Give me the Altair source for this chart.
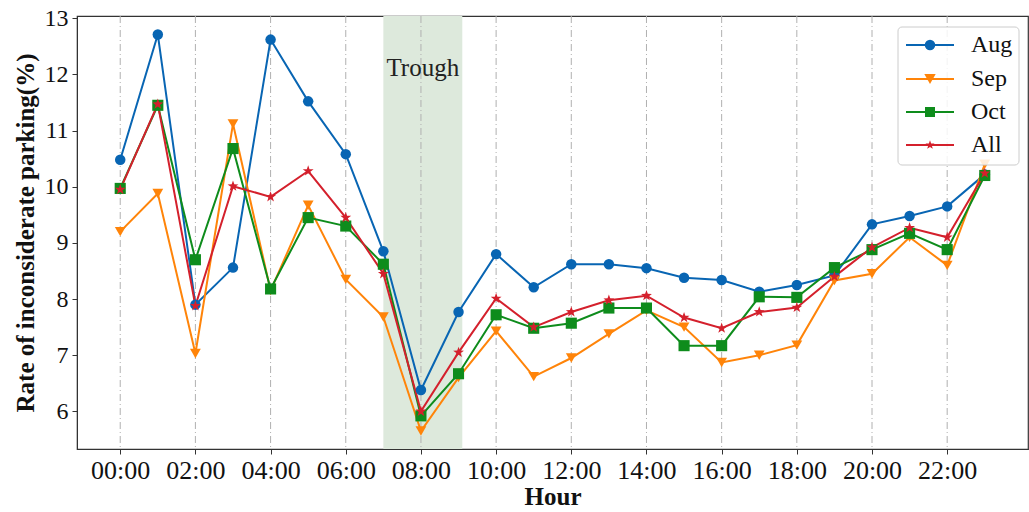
import altair as alt
import pandas as pd

hours = list(range(24))
aug = [10.48, 12.71, 7.90, 8.56, 12.62, 11.52, 10.58, 8.85, 6.38, 7.77, 8.80, 8.21,
       8.62, 8.62, 8.55, 8.38, 8.34, 8.13, 8.25, 8.42, 9.33, 9.48, 9.65, 10.22]
sep = [9.20, 9.88, 7.03, 11.12, 8.15, 9.67, 8.35, 7.68, 5.65, 6.60, 7.43, 6.62,
       6.95, 7.38, 7.80, 7.50, 6.87, 7.00, 7.18, 8.33, 8.45, 9.10, 8.60, 10.40]
oct_ = [9.97, 11.45, 8.70, 10.68, 8.18, 9.45, 9.30, 8.62, 5.92, 6.67, 7.72, 7.48,
        7.57, 7.84, 7.84, 7.17, 7.17, 8.04, 8.03, 8.56, 8.88, 9.17, 8.88, 10.20]
all_ = [9.95, 11.47, 7.88, 10.01, 9.82, 10.28, 9.45, 8.45, 6.00, 7.05, 8.01, 7.50,
        7.77, 7.98, 8.06, 7.67, 7.48, 7.77, 7.85, 8.40, 8.92, 9.27, 9.10, 10.24]
series_names = ["Aug", "Sep", "Oct", "All"]
series_colors = ["#0865b3", "#ff8409", "#0e8c1c", "#d4202c"]
star = "M0,-1L0.235,-0.324L0.951,-0.309L0.38,0.124L0.588,0.809L0,0.4L-0.588,0.809L-0.38,0.124L-0.951,-0.309L-0.235,-0.324Z"
series_shapes = ["circle", "triangle-down", "square", star]
series_sizes = [110, 130, 100, 90]
tick_hours = list(range(0, 24, 2))
trough = (7, 9.1)

W, H = 951, 433
XD = [-1.15, 24.15]
YD = [5.33, 13.04]
FONT = "Liberation Serif"

rows = []
for name, vals in zip(series_names, [aug, sep, oct_, all_]):
    for h, v in zip(hours, vals):
        rows.append({"hour": h, "rate": v, "series": name})
df = pd.DataFrame(rows)

xs = alt.Scale(domain=XD, nice=False, zero=False)
ys = alt.Scale(domain=YD, nice=False, zero=False)
cs = alt.Scale(domain=series_names, range=series_colors)
ss = alt.Scale(domain=series_names, range=series_shapes)

band = alt.Chart(pd.DataFrame({"x0": [trough[0]], "x1": [trough[1]]})).mark_rect(
    color="#dde9dc", opacity=1
).encode(
    x=alt.X("x0:Q", scale=xs), x2="x1:Q",
    y=alt.value(0), y2=alt.value(H)
)

grid = alt.Chart(pd.DataFrame({"h": tick_hours})).mark_rule(
    color="#b0b0b0", strokeWidth=1, strokeDash=[7, 3, 1, 3]
).encode(x=alt.X("h:Q", scale=xs), y=alt.value(0), y2=alt.value(H))

trough_text = alt.Chart(pd.DataFrame({"x": [8.05], "t": ["Trough"]})).mark_text(
    font=FONT, fontSize=25, color="#222222", baseline="middle"
).encode(x=alt.X("x:Q", scale=xs), y=alt.value(52), text="t:N")

lines = alt.Chart(df).mark_line(strokeWidth=2).encode(
    x=alt.X("hour:Q", scale=xs,
            axis=alt.Axis(values=tick_hours,
                          labelExpr="(datum.value < 10 ? '0' : '') + datum.value + ':00'",
                          title="Hour", grid=False)),
    y=alt.Y("rate:Q", scale=ys,
            axis=alt.Axis(values=[6, 7, 8, 9, 10, 11, 12, 13], title="Rate of inconsiderate parking(%)",
                          grid=False, format="d")),
    color=alt.Color("series:N", scale=cs, legend=None),
    detail="series:N",
)

points = alt.Chart(df).mark_point(filled=True, opacity=1).encode(
    x=alt.X("hour:Q", scale=xs),
    y=alt.Y("rate:Q", scale=ys),
    color=alt.Color("series:N", scale=cs, legend=None),
    shape=alt.Shape("series:N", scale=ss, legend=None),
    size=alt.Size("series:N", scale=alt.Scale(domain=series_names, range=series_sizes), legend=None),
)

# legend
leg_box = alt.Chart(pd.DataFrame({"a": [0]})).mark_rect(
    fill="white", fillOpacity=0.85, stroke="#cccccc", strokeWidth=1, cornerRadius=4
).encode(x=alt.value(821), x2=alt.value(942), y=alt.value(11), y2=alt.value(149))

leg_layers = [leg_box]
leg_y = [29, 63, 96, 129]
for name, col, shp, sz, yy in zip(series_names, series_colors, series_shapes, series_sizes, leg_y):
    d = pd.DataFrame({"series": [name]})
    leg_layers.append(alt.Chart(d).mark_rule(color=col, strokeWidth=2).encode(
        x=alt.value(829), x2=alt.value(877), y=alt.value(yy)))
    leg_layers.append(alt.Chart(d).mark_point(filled=True, opacity=1, color=col, shape=shp, size=sz).encode(
        x=alt.value(853), y=alt.value(yy)))
    leg_layers.append(alt.Chart(d).mark_text(font=FONT, fontSize=24, align="left", baseline="middle",
                                             color="#111111").encode(
        x=alt.value(894), y=alt.value(yy), text="series:N"))

chart = alt.layer(band, grid, trough_text, lines, points, *leg_layers).properties(
    width=W, height=H,
    autosize=alt.AutoSizeParams(type="none"),
    padding={"left": 77, "top": 16, "right": 1, "bottom": 63},
).configure_view(stroke="#333333", strokeWidth=1.2).configure_axis(
    labelFont=FONT, titleFont=FONT,
    titleFontWeight="bold", labelColor="#111111", titleColor="#111111",
    domainColor="#333333", tickColor="#333333", tickSize=5, labelPadding=3,
).configure_axisX(labelFontSize=26, titleFontSize=25, titlePadding=1).configure_axisY(
    labelFontSize=24, titleFontSize=25, titlePadding=6, labelPadding=4)

chart.save("out.html", embed_options={"renderer": "svg", "actions": False})
